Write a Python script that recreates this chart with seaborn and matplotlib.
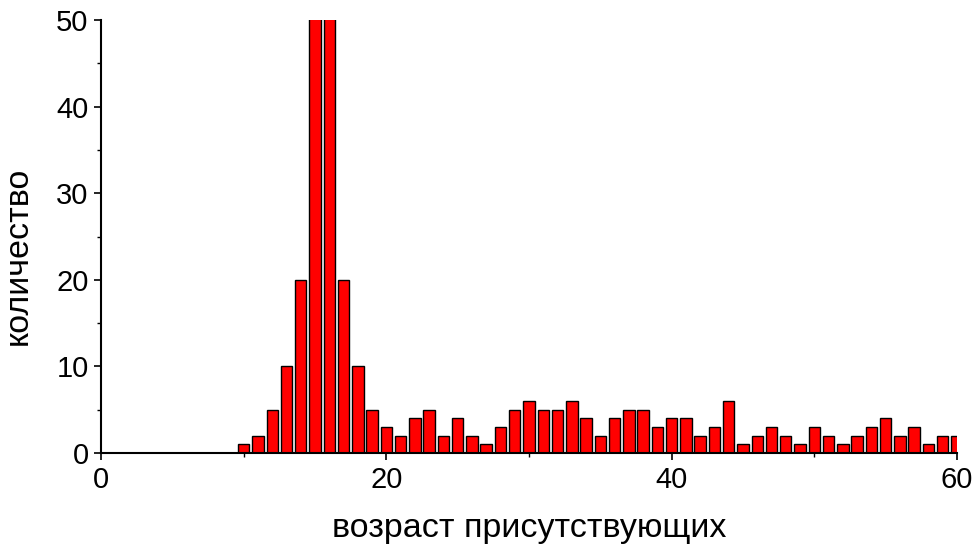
import matplotlib
matplotlib.use("Agg")
import matplotlib.pyplot as plt
import seaborn as sns
import pandas as pd
from matplotlib.ticker import MultipleLocator

ages = list(range(10, 61))
counts = [1, 2, 5, 10, 20, 55, 55, 20, 10, 5,
          3, 2, 4, 5, 2, 4, 2, 1, 3, 5,
          6, 5, 5, 6, 4, 2, 4, 5, 5, 3,
          4, 4, 2, 3, 6, 1, 2, 3, 2, 1,
          3, 2, 1, 2, 3, 4, 2, 3, 1, 2, 2]
xlabel = "возраст присутствующих"
ylabel = "количество"

df = pd.DataFrame({"age": ages, "count": counts})

sns.set_theme(style="ticks")
plt.rcParams['font.family'] = ['Liberation Sans', 'DejaVu Sans']

fig = plt.figure(figsize=(9.77, 5.54), dpi=100)
ax = fig.add_axes([0.1034, 0.1823, 0.9795 - 0.1034, 0.9639 - 0.1823])

sns.barplot(data=df, x="age", y="count", native_scale=True, width=0.8,
            color="#ff0000", saturation=1, edgecolor="black", linewidth=1.0, ax=ax)

ax.set_xlim(0, 60)
ax.set_ylim(0, 50)
ax.xaxis.set_major_locator(MultipleLocator(20))
ax.xaxis.set_minor_locator(MultipleLocator(10))
ax.yaxis.set_major_locator(MultipleLocator(10))
ax.yaxis.set_minor_locator(MultipleLocator(5))
ax.tick_params(axis='both', which='major', direction='out', length=5, width=1.2,
               labelsize=21, colors='black', pad=4)
ax.tick_params(axis='both', which='minor', direction='out', length=3, width=1.0,
               colors='black')
for s in ["top", "right"]:
    ax.spines[s].set_visible(False)
for s in ["left", "bottom"]:
    ax.spines[s].set_linewidth(1.5)
    ax.spines[s].set_color("black")
ax.set_xlabel(xlabel, fontsize=24.5, labelpad=14, color='black')
ax.set_ylabel(ylabel, fontsize=24.5, color='black')
ax.yaxis.set_label_coords(-0.0785, 0.455)

fig.savefig("out.png", dpi=100)
